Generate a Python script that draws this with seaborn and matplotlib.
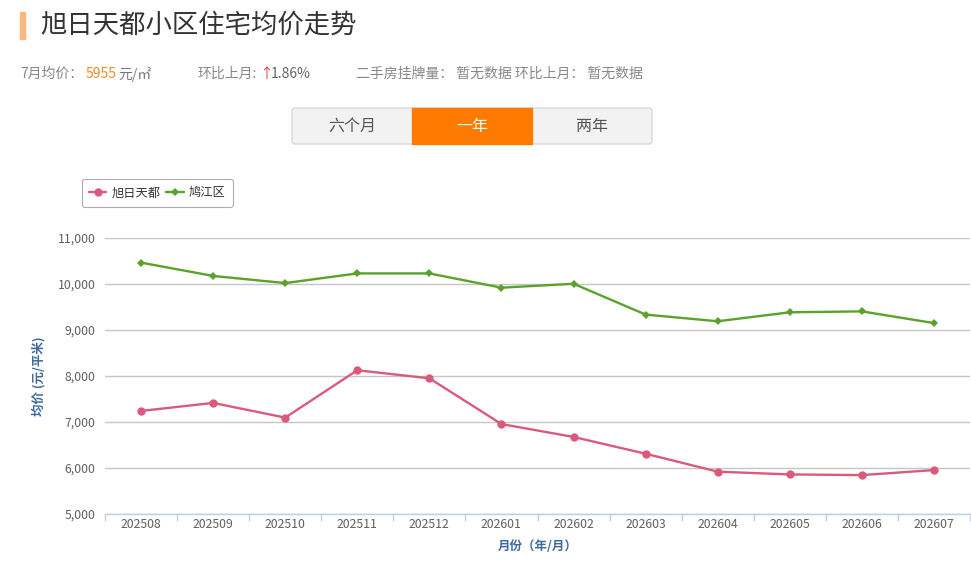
import numpy as np
import pandas as pd
import seaborn as sns
import matplotlib.pyplot as plt
from matplotlib.patches import FancyBboxPatch, Rectangle
from matplotlib.lines import Line2D
from matplotlib.ticker import FuncFormatter, FixedLocator
from matplotlib.transforms import Affine2D

# данные графика
months = ['202508', '202509', '202510', '202511', '202512', '202601',
          '202602', '202603', '202604', '202605', '202606', '202607']
xuri_prices = [7240, 7415, 7095, 8125, 7950, 6955, 6675, 6310, 5920, 5860, 5846, 5955]
jiujiang_prices = [10465, 10175, 10020, 10230, 10230, 9920, 10005, 9335, 9190, 9385, 9405, 9150]
series_names = ['旭日天都', '鸠江区']
series_colors = ['#db5a7c', '#5ba22b']
y_ticks = [5000, 6000, 7000, 8000, 9000, 10000, 11000]
range_buttons = ['六个月', '一年', '两年']

sns.set_theme(style='white')
plt.rcParams['font.family'] = ['Noto Sans CJK SC', 'DejaVu Sans']

fig = plt.figure(figsize=(9.71, 5.8), dpi=100)
# пиксельные координаты от левого верхнего угла
px = Affine2D().scale(0.01, -0.01).translate(0, 5.8) + fig.dpi_scale_trans

# заголовок
fig.patches.append(Rectangle((20, 12), 5, 27, transform=px, color='#f9b77b'))
fig.text(40, 25, '旭日天都小区住宅均价走势', transform=px, va='center', ha='left',
         fontsize=19, color='#333333')

# строка со сводкой
sub_y = 74
sub_fs = 10
fig.text(20, sub_y, '7月均价：', transform=px, va='center', fontsize=sub_fs, color='#888888')
fig.text(86, sub_y, '5955', transform=px, va='center', fontsize=sub_fs, color='#f08a24')
fig.text(118, sub_y, '元/㎡', transform=px, va='center', fontsize=sub_fs, color='#777777')
fig.text(197, sub_y, '环比上月:', transform=px, va='center', fontsize=sub_fs, color='#888888')
fig.text(259, sub_y, '↑', transform=px, va='center', fontsize=sub_fs, color='#e23b3b')
fig.text(271, sub_y, '1.86%', transform=px, va='center', fontsize=sub_fs, color='#666666')
fig.text(356, sub_y, '二手房挂牌量： 暂无数据 环比上月： 暂无数据', transform=px, va='center',
         fontsize=sub_fs, color='#888888')

# переключатель периода
fig.patches.append(FancyBboxPatch((292, 108), 360, 36, boxstyle='round,pad=0,rounding_size=3',
                                  transform=px, facecolor='#f2f2f2', edgecolor='#d9d9d9', lw=1))
fig.patches.append(Rectangle((412, 108), 120, 36, transform=px, color='#ff7a00'))
for i, label in enumerate(range_buttons):
    fig.text(352 + i * 120, 126, label, transform=px, ha='center', va='center', fontsize=11.5,
             color='white' if i == 1 else '#555555')

# график
ax = fig.add_axes([105 / 971, 1 - 514 / 580, 865 / 971, 276 / 580])
markers = ['o', 'D']
marker_sizes = [6, 4.2]
for name, vals, color, marker, ms in zip(series_names, [xuri_prices, jiujiang_prices],
                                         series_colors, markers, marker_sizes):
    sns.pointplot(x=months, y=vals, color=color, markers=marker, markersize=ms,
                  linewidth=1.7, errorbar=None, ax=ax, markeredgewidth=0)

ax.set_xlim(-0.5, len(months) - 0.5)
ax.set_ylim(5000, 11000)
ax.set_yticks(y_ticks)
ax.yaxis.set_major_formatter(FuncFormatter(lambda v, p: f'{int(v):,}'))
ax.grid(axis='y', color='#c6c6c6', lw=1)
ax.grid(axis='x', visible=False)
for s in ['top', 'right', 'left']:
    ax.spines[s].set_visible(False)
ax.spines['bottom'].set_color('#c0d0e0')
ax.spines['bottom'].set_linewidth(1)
ax.tick_params(axis='y', length=0, labelsize=8.8, labelcolor='#606060', pad=7)
ax.tick_params(axis='x', which='major', length=0, labelsize=8.8, labelcolor='#606060', pad=3)
ax.xaxis.set_minor_locator(FixedLocator(np.arange(-0.5, len(months), 1.0)))
ax.tick_params(axis='x', which='minor', length=5, color='#c0d0e0', width=1, bottom=True)

ax.set_ylabel('均价 (元/平米)', color='#3d6a9a', fontsize=9, fontweight='bold')
ax.yaxis.set_label_coords(-0.069, 0.5)
ax.set_xlabel('月份（年/月）', color='#3d6a9a', fontsize=9, fontweight='bold')
ax.xaxis.set_label_coords(0.5, -0.095)

# легенда
handles = [Line2D([], [], color=c, marker=m, markersize=ms, lw=1.7, markeredgewidth=0)
           for c, m, ms in zip(series_colors, markers, marker_sizes)]
leg = ax.legend(handles, series_names, loc='upper left', bbox_to_anchor=(82, 179),
                bbox_transform=px, borderaxespad=0, ncol=2, fontsize=8.8, frameon=True,
                fancybox=True, handlelength=1.4, handletextpad=0.4, columnspacing=0.5,
                borderpad=0.6, labelcolor='#333333')
leg.get_frame().set_edgecolor('#999999')
leg.get_frame().set_linewidth(0.8)

fig.savefig('out.png', dpi=100)
